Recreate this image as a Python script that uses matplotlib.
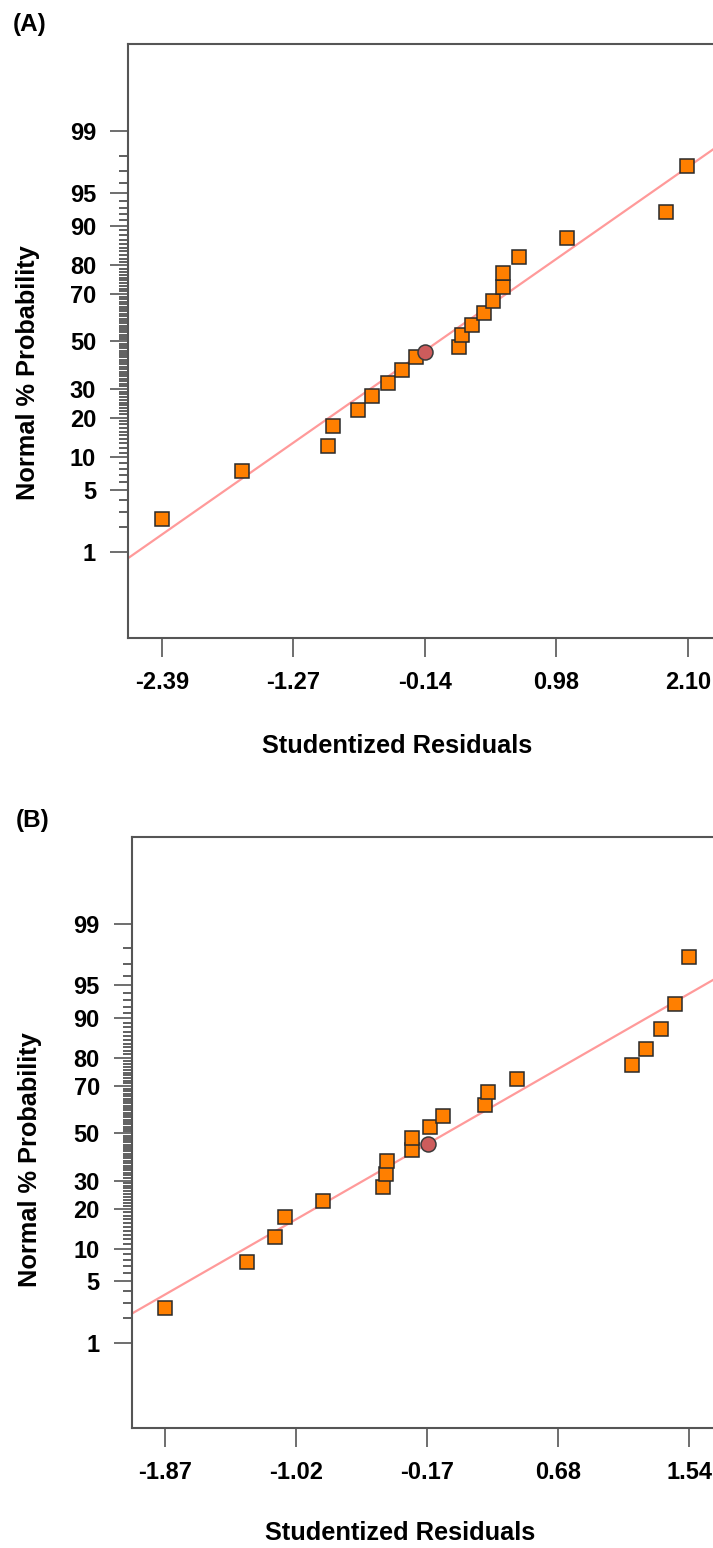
import numpy as np
import matplotlib
matplotlib.use("Agg")
from matplotlib import pyplot as plt
from matplotlib.ticker import FixedLocator, NullFormatter
from statistics import NormalDist

plt.rcParams['font.family'] = ['Liberation Sans', 'DejaVu Sans']
plt.rcParams['font.weight'] = 'bold'

# panel A data
a_resid = [-2.39, -1.706, -0.968, -0.925, -0.712, -0.599, -0.462, -0.340, -0.220, 0.151,
           0.171, 0.262, 0.359, 0.438, 0.521, 0.521, 0.659, 1.066, 1.914, 2.093]
a_prob = [2.5, 7.6, 12.5, 17.5, 22.5, 27.5, 32.5, 37.6, 43.0, 47.4,
          52.9, 57.2, 62.2, 67.4, 72.5, 77.4, 82.5, 87.4, 92.3, 97.4]
a_circle_resid = [-0.144]
a_circle_prob = [45.3]
a_fit = (0.904, 0.028)  # slope, intercept in z units
a_xticklabels = ['-2.39', '-1.27', '-0.14', '0.98', '2.10']

# panel B data
b_resid = [-1.870, -1.339, -1.153, -1.088, -0.840, -0.454, -0.435, -0.424, -0.265, -0.265,
           -0.144, -0.060, 0.213, 0.229, 0.418, 1.165, 1.258, 1.354, 1.447, 1.540]
b_prob = [2.6, 7.6, 12.5, 17.6, 22.5, 27.6, 32.5, 37.9, 42.6, 47.7,
          52.6, 57.6, 62.3, 67.5, 72.6, 77.6, 82.5, 87.6, 92.5, 97.5]
b_circle_resid = [-0.161]
b_circle_prob = [45.1]
b_fit = (0.980, 0.042)
b_xticklabels = ['-1.87', '-1.02', '-0.17', '0.68', '1.54']

y_major = [1, 5, 10, 20, 30, 50, 70, 80, 90, 95, 99]
y_minor = [p for p in range(2, 99) if p not in y_major]

ND = NormalDist()
_ppf = np.vectorize(ND.inv_cdf, otypes=[float])
_cdf = np.vectorize(ND.cdf, otypes=[float])


def forward(p):
    p = np.clip(np.asarray(p, dtype=float), 1e-9, 100 - 1e-9)
    return _ppf(p / 100.0)


def inverse(z):
    return 100.0 * _cdf(np.asarray(z, dtype=float))


GRAY = '#555555'


def draw_panel(ax, resid, prob, c_resid, c_prob, fit, xlabels, xlim):
    ax.set_yscale('function', functions=(forward, inverse))
    ax.set_xlim(*xlim)
    ax.set_ylim(inverse(-3.276), inverse(3.287))

    slope, icpt = fit
    xs = np.array(xlim)
    ax.plot(xs, inverse(slope * xs + icpt), color='#ff9a9a', lw=1.6, zorder=2)

    ax.plot(resid, prob, ls='none', marker='s', ms=9.8, mfc='#ff7f00',
            mec='#2a2a2a', mew=1.1, zorder=3)
    ax.plot(c_resid, c_prob, ls='none', marker='o', ms=10.8, mfc='#cd5c5c',
            mec='#3a3a3a', mew=1.1, zorder=4)

    lo, hi = float(xlabels[0]), float(xlabels[-1])
    ax.set_xticks(np.linspace(lo, hi, len(xlabels)))
    ax.set_xticklabels(xlabels)
    ax.yaxis.set_major_locator(FixedLocator(y_major))
    ax.yaxis.set_minor_locator(FixedLocator(y_minor))
    ax.set_yticklabels([str(v) for v in y_major])
    ax.yaxis.set_minor_formatter(NullFormatter())
    ax.xaxis.set_minor_locator(FixedLocator([]))

    ax.tick_params(axis='both', which='major', direction='out', color=GRAY,
                   width=1.2, labelsize=17, pad=10)
    ax.tick_params(axis='y', which='major', length=13)
    ax.tick_params(axis='x', which='major', length=13.5)
    ax.tick_params(axis='y', which='minor', direction='out', color='#444444',
                   width=1.2, length=6.5)
    for lab in ax.get_xticklabels() + ax.get_yticklabels():
        lab.set_fontweight('bold')
    for side in ['left', 'bottom', 'top']:
        ax.spines[side].set_color(GRAY)
        ax.spines[side].set_linewidth(1.5)
    ax.spines['right'].set_visible(False)


fig = plt.figure(figsize=(7.13, 15.48), dpi=100)

axA = fig.add_axes([128 / 713, 1 - 638 / 1548, (722 - 128) / 713, (638 - 44) / 1548])
draw_panel(axA, a_resid, a_prob, a_circle_resid, a_circle_prob, a_fit,
           a_xticklabels, (-2.680, 2.393))

axB = fig.add_axes([131.7 / 713, 1 - 1428.3 / 1548, (722.6 - 131.7) / 713, (1428.3 - 837.3) / 1548])
draw_panel(axB, b_resid, b_prob, b_circle_resid, b_circle_prob, b_fit,
           b_xticklabels, (-2.087, 1.757))

# labels placed in pixel positions of the reference
def ftext(x, y, s, **kw):
    fig.text(x / 713, 1 - y / 1548, s, fontweight='bold', **kw)

ftext(13, 24, '(A)', fontsize=17.5, ha='left', va='center')
ftext(16, 820, '(B)', fontsize=17.5, ha='left', va='center')
ftext(397, 746, 'Studentized Residuals', fontsize=18.3, ha='center', va='center')
ftext(400, 1533, 'Studentized Residuals', fontsize=18.3, ha='center', va='center')
ftext(28, 373, 'Normal % Probability', fontsize=18.3, ha='center', va='center', rotation=90)
ftext(30, 1160, 'Normal % Probability', fontsize=18.3, ha='center', va='center', rotation=90)

fig.savefig('out.png', dpi=100)
